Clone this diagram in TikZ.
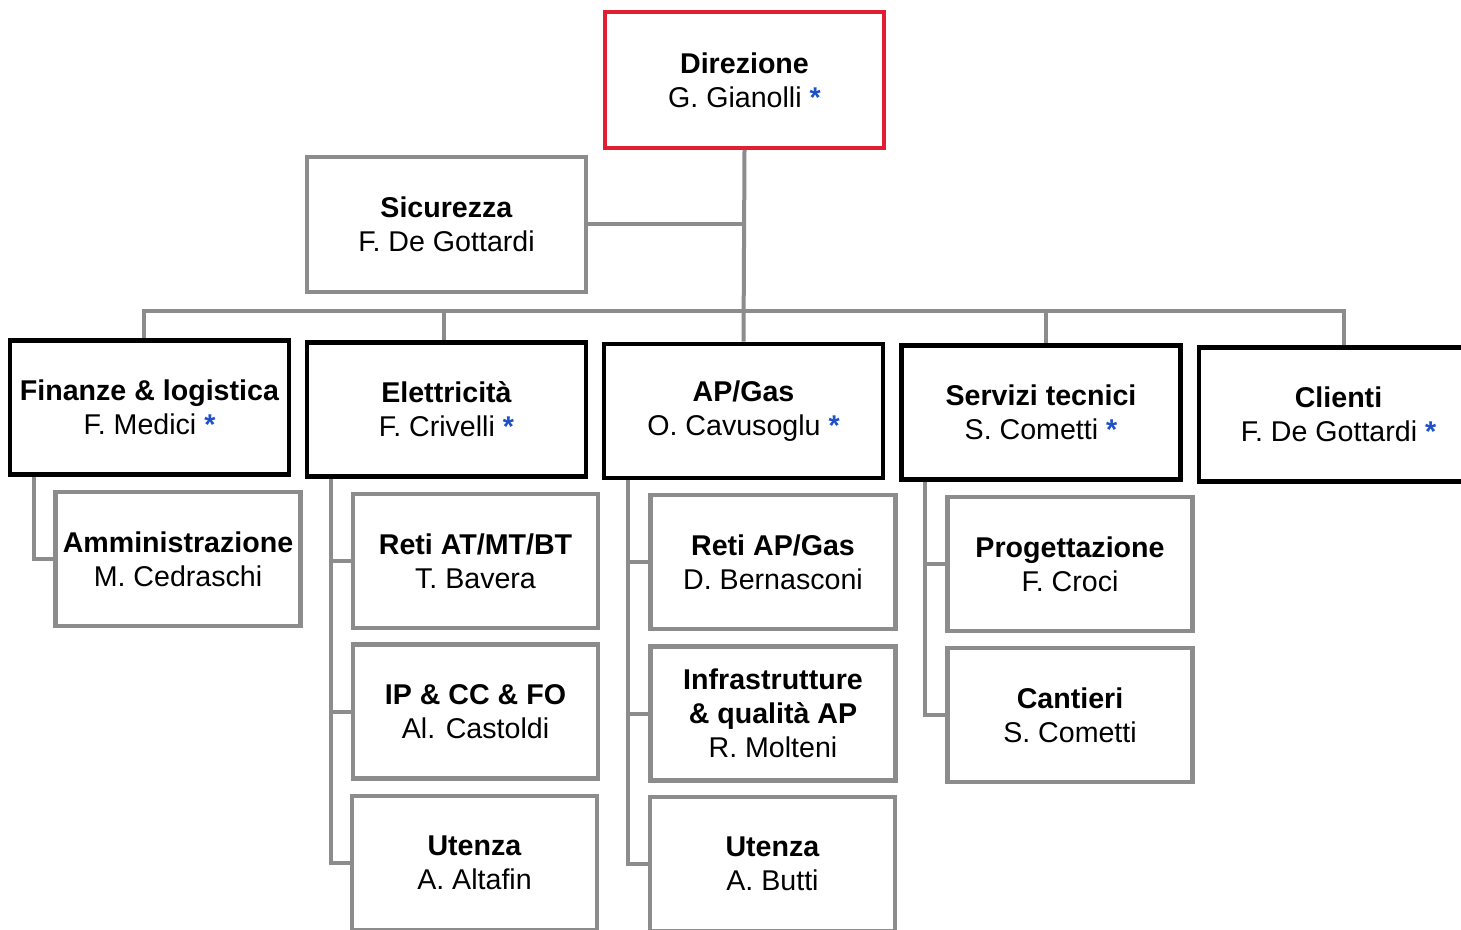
\documentclass[tikz,border=0pt]{standalone}
\usepackage{fontspec}
\setmainfont{Liberation Sans}
\definecolor{redbox}{RGB}{226,30,50}
\definecolor{star}{RGB}{30,80,200}
\definecolor{lineg}{RGB}{140,140,140}
\newcommand{\st}{ {\color{star}\textbf{*}}}
\begin{document}
\begin{tikzpicture}[x=0.5pt,y=-0.5pt,
  base/.style={rectangle,align=center,fill=white,inner sep=0pt,
    font=\fontsize{14.3pt}{17pt}\selectfont},
  topbox/.style={base,draw=redbox,line width=2pt,minimum width=139.5pt,minimum height=68pt},
  mainbox/.style={base,draw=black,line width=2.4pt,minimum width=139.5pt,minimum height=67pt},
  grbox/.style={base,draw=lineg,line width=2.2pt,minimum width=139.5pt,minimum height=67.5pt},
  subbox/.style={base,draw=lineg,line width=2.2pt,minimum width=122.5pt,minimum height=67pt},
  conn/.style={draw=lineg,line width=2pt}]
\useasboundingbox (0,0) rectangle (1461,930);
\clip (0,0) rectangle (1461,930);
\coordinate (bus) at (743,311);
\node[topbox] (dir) at (744.5,80) {\textbf{Direzione}\\G. Gianolli\st};
\node[grbox] (sic) at (446.5,224.5) {\textbf{Sicurezza}\\F. De Gottardi};
\node[mainbox] (fin) at (149.5,407.5) {\textbf{Finanze \& logistica}\\F. Medici\st};
\node[mainbox] (ele) at (446.5,409.5) {\textbf{Elettricità}\\F. Crivelli\st};
\node[mainbox] (apg) at (743.5,411) {\textbf{AP/Gas}\\O. Cavusoglu\st};
\node[mainbox] (ser) at (1041,412.5) {\textbf{Servizi tecnici}\\S. Cometti\st};
\node[mainbox] (cli) at (1338.5,414.5) {\textbf{Clienti}\\F. De Gottardi\st};
\node[subbox] (amm) at (178,559) {\textbf{Amministrazione}\\M. Cedraschi};
\node[subbox] (rat) at (475.5,561) {\textbf{Reti AT/MT/BT}\\T. Bavera};
\node[subbox] (ipc) at (475.5,711.5) {\textbf{IP \& CC \& FO}\\Al. Castoldi};
\node[subbox] (uta) at (474.5,863) {\textbf{Utenza}\\A. Altafin};
\node[subbox] (rap) at (773,562) {\textbf{Reti AP/Gas}\\D. Bernasconi};
\node[subbox] (inf) at (773,713.5) {\textbf{Infrastrutture}\\\textbf{\& qualità AP}\\R. Molteni};
\node[subbox] (utb) at (772.5,864) {\textbf{Utenza}\\A. Butti};
\node[subbox] (pro) at (1070,564) {\textbf{Progettazione}\\F. Croci};
\node[subbox] (can) at (1070,715) {\textbf{Cantieri}\\S. Cometti};
\path[conn] (dir.south) -- (apg.north);
\path[conn] (sic.east) -- (sic.east -| dir.south);
\path[conn] ([xshift=-3pt]fin.north) -- ([xshift=-3pt]fin.north |- bus) -- ([xshift=2.5pt]cli.north |- bus) -- ([xshift=2.5pt]cli.north);
\path[conn] ([xshift=-1.5pt]ele.north) -- ([xshift=-1.5pt]ele.north |- bus);
\path[conn] ([xshift=2.5pt]ser.north) -- ([xshift=2.5pt]ser.north |- bus);
\path[conn] ([xshift=13pt]fin.south west) |- (amm.west);
\path[conn] ([xshift=13pt]ele.south west) |- (rat.west);
\path[conn] ([xshift=13pt]ele.south west) |- (ipc.west);
\path[conn] ([xshift=13pt]ele.south west) |- (uta.west);
\path[conn] ([xshift=13pt]apg.south west) |- (rap.west);
\path[conn] ([xshift=13pt]apg.south west) |- (inf.west);
\path[conn] ([xshift=13pt]apg.south west) |- (utb.west);
\path[conn] ([xshift=13pt]ser.south west) |- (pro.west);
\path[conn] ([xshift=13pt]ser.south west) |- (can.west);
\end{tikzpicture}
\end{document}
